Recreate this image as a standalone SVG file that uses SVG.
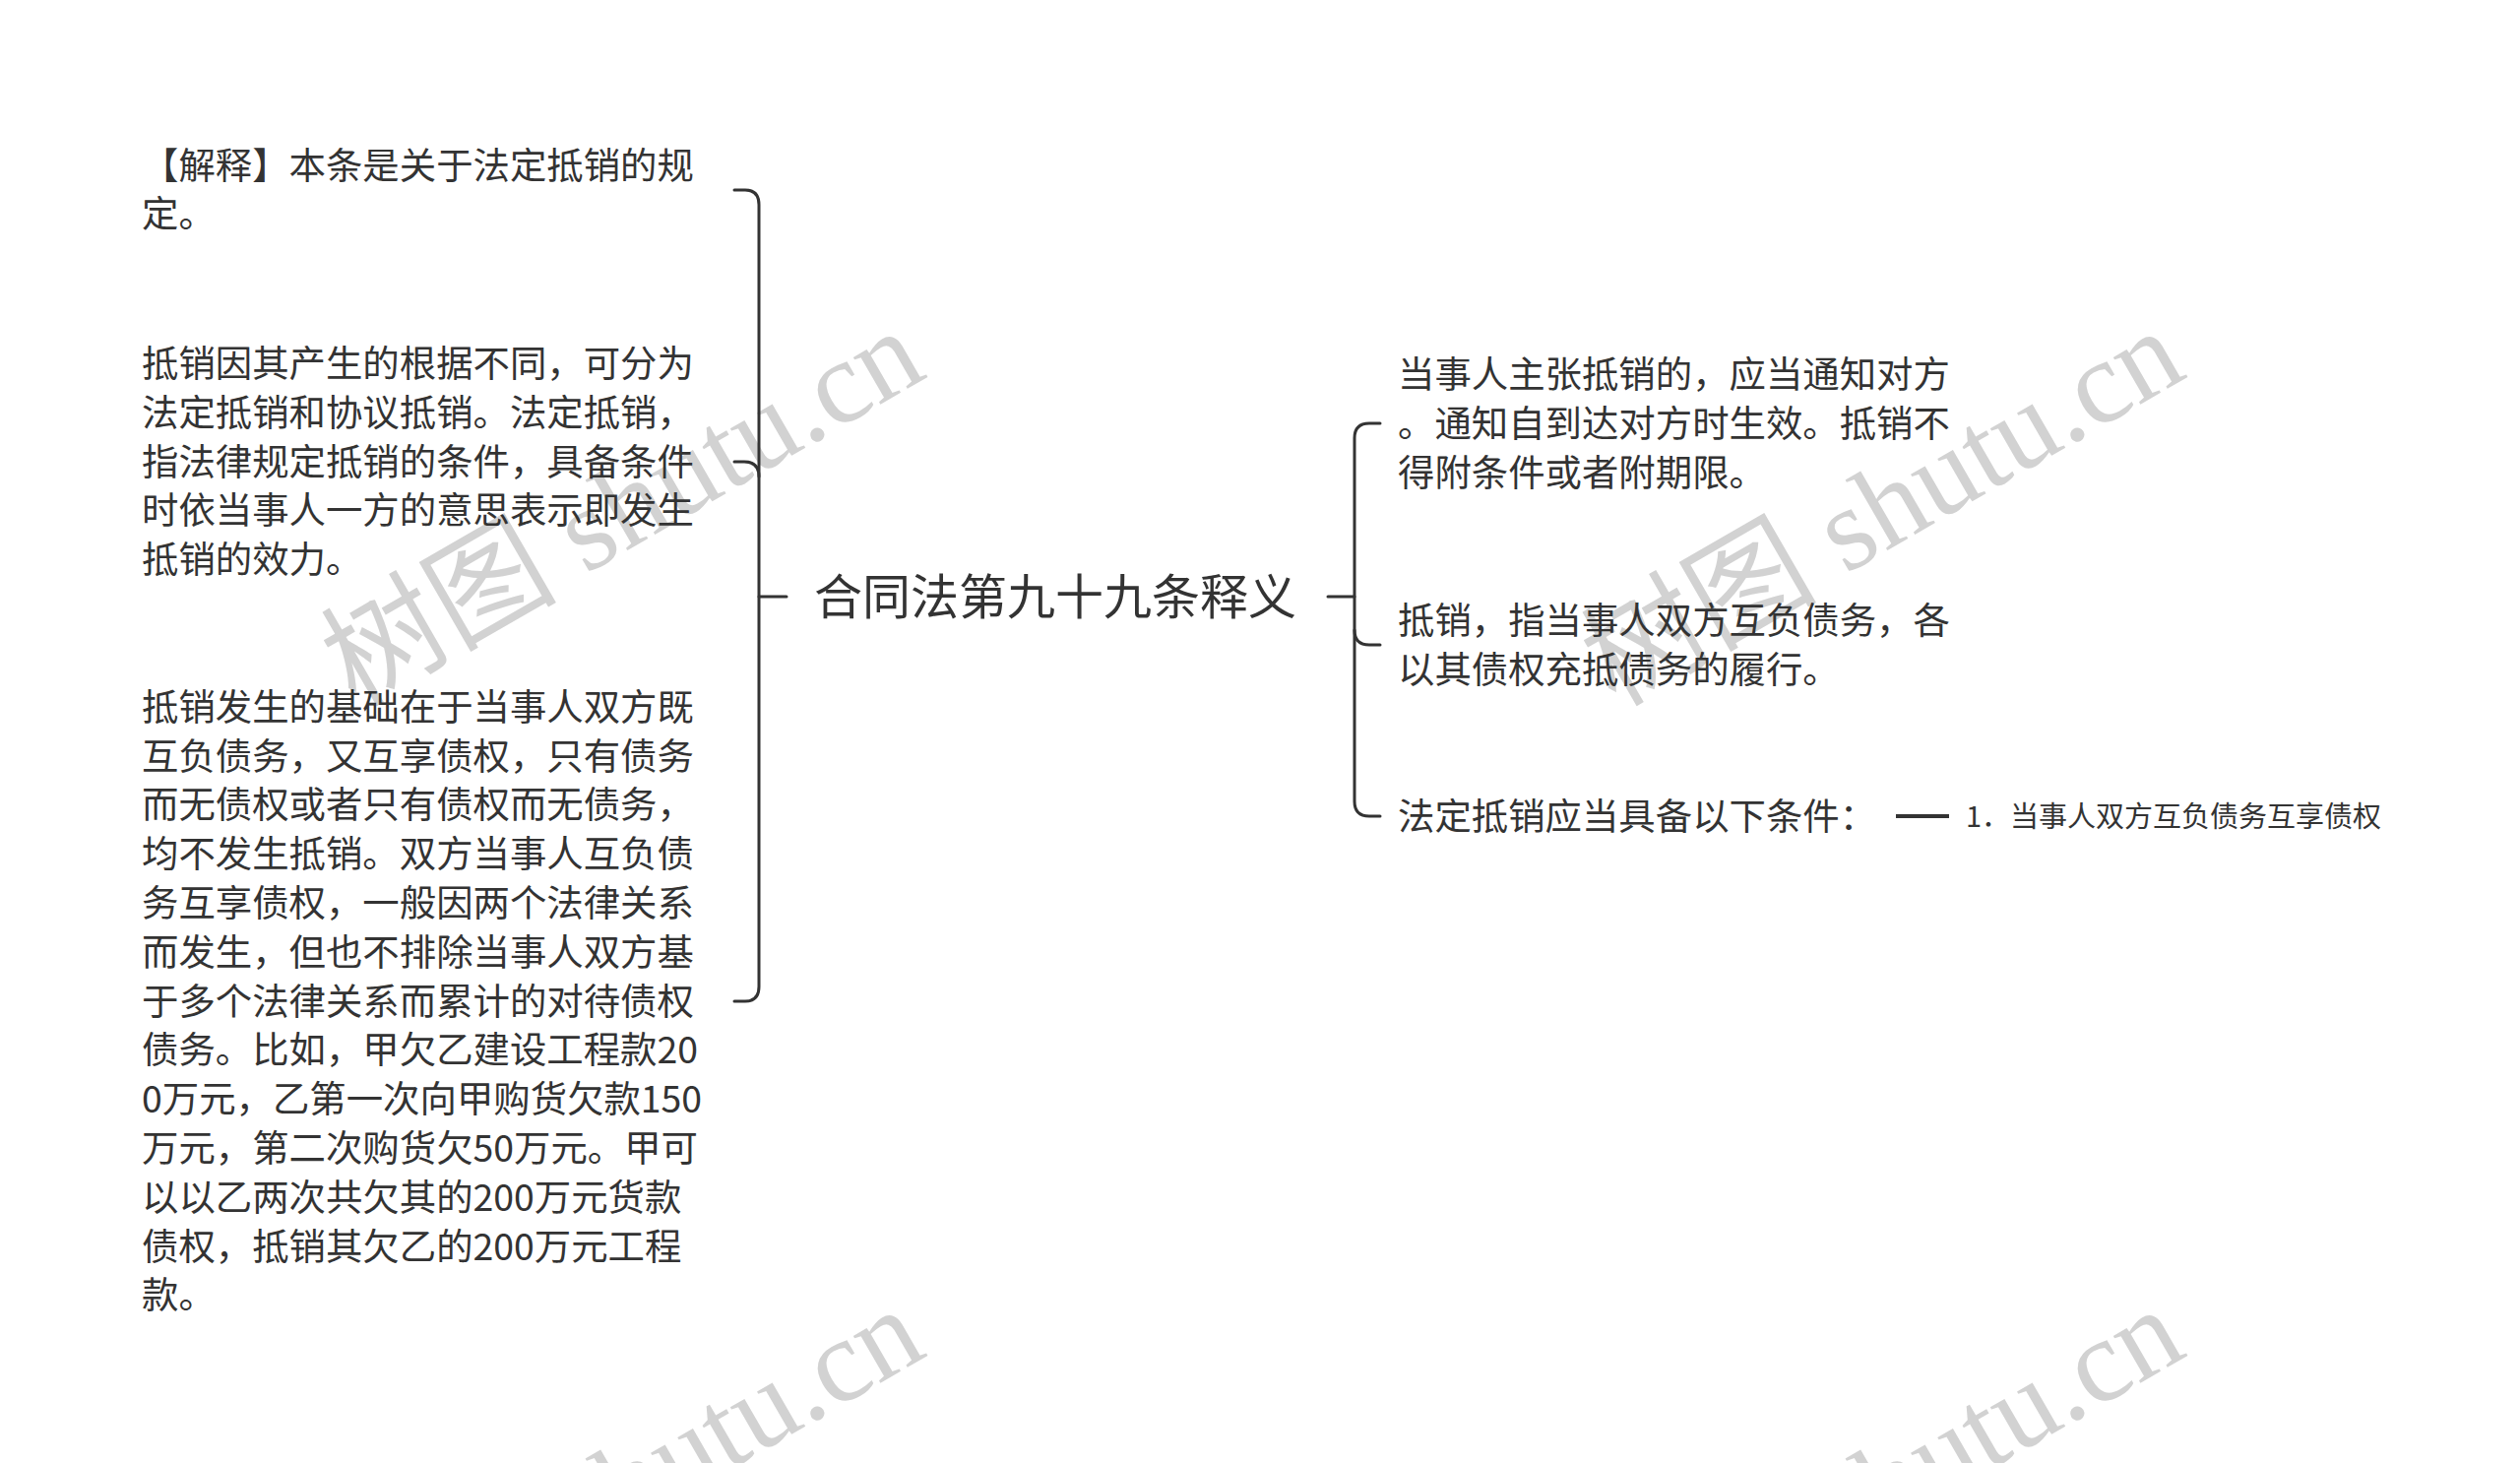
<svg xmlns="http://www.w3.org/2000/svg" width="2560" height="1486" viewBox="0 0 2560 1486">
<style>
.t{font-family:"Noto Sans CJK SC","Noto Sans",sans-serif;fill:#333333;font-size:37.4px}
.c{font-size:49px}
.leaf{font-size:29px}
.ln{fill:none;stroke:#333333;stroke-width:3;stroke-linecap:round}
.wm{font-family:"Liberation Serif","Noto Sans CJK SC",serif;fill:#d2d2d2;font-size:120px}
</style>
<rect width="2560" height="1486" fill="#ffffff"/>
<g id="watermarks">
<text class="wm" text-anchor="end" transform="translate(944,382) rotate(-30)">树图 shutu.cn</text>
<text class="wm" text-anchor="end" transform="translate(2224,382) rotate(-30)">树图 shutu.cn</text>
<text class="wm" text-anchor="end" transform="translate(944,1376) rotate(-30)">树图 shutu.cn</text>
<text class="wm" text-anchor="end" transform="translate(2224,1376) rotate(-30)">树图 shutu.cn</text>
</g>
<g id="connectors">
<path class="ln" d="M746,193 H757 Q771,193 771,208 V1002 Q771,1017 757,1017 H746"/>
<path class="ln" d="M746,469 H756 Q771,469 771,484"/>
<path class="ln" d="M771,606 H799"/>
<path class="ln" d="M1349,606 H1376"/>
<path class="ln" d="M1402,430 H1391 Q1376,430 1376,445 V814 Q1376,829 1391,829 H1402"/>
<path class="ln" d="M1376,640 Q1376,655 1391,655 H1402"/>
<path d="M1926,829 H1980" stroke="#333333" stroke-width="4" fill="none"/>
</g>
<g id="root">
<text class="t c" x="827" y="624">合同法第九十九条释义</text>
</g>
<g id="left1">
<text class="t" x="144"><tspan x="144" y="182">【解释】本条是关于法定抵销的规</tspan><tspan x="144" y="231">定。</tspan></text>
</g>
<g id="left2">
<text class="t" x="144"><tspan x="144" y="383">抵销因其产生的根据不同，可分为</tspan><tspan x="144" y="433">法定抵销和协议抵销。法定抵销，</tspan><tspan x="144" y="483">指法律规定抵销的条件，具备条件</tspan><tspan x="144" y="532">时依当事人一方的意思表示即发生</tspan><tspan x="144" y="582">抵销的效力。</tspan></text>
</g>
<g id="left3">
<text class="t" x="144"><tspan x="144" y="732">抵销发生的基础在于当事人双方既</tspan><tspan x="144" y="782">互负债务，又互享债权，只有债务</tspan><tspan x="144" y="831">而无债权或者只有债权而无债务，</tspan><tspan x="144" y="881">均不发生抵销。双方当事人互负债</tspan><tspan x="144" y="931">务互享债权，一般因两个法律关系</tspan><tspan x="144" y="981">而发生，但也不排除当事人双方基</tspan><tspan x="144" y="1031">于多个法律关系而累计的对待债权</tspan><tspan x="144" y="1080">债务。比如，甲欠乙建设工程款20</tspan><tspan x="144" y="1130">0万元，乙第一次向甲购货欠款150</tspan><tspan x="144" y="1180">万元，第二次购货欠50万元。甲可</tspan><tspan x="144" y="1230">以以乙两次共欠其的200万元货款</tspan><tspan x="144" y="1280">债权，抵销其欠乙的200万元工程</tspan><tspan x="144" y="1329">款。</tspan></text>
</g>
<g id="right1">
<text class="t" x="1420"><tspan x="1420" y="394">当事人主张抵销的，应当通知对方</tspan><tspan x="1420" y="444">。通知自到达对方时生效。抵销不</tspan><tspan x="1420" y="494">得附条件或者附期限。</tspan></text>
</g>
<g id="right2">
<text class="t" x="1420"><tspan x="1420" y="644">抵销，指当事人双方互负债务，各</tspan><tspan x="1420" y="694">以其债权充抵债务的履行。</tspan></text>
</g>
<g id="right3">
<text class="t" x="1420" y="843">法定抵销应当具备以下条件：</text>
</g>
<g id="leaf1">
<text class="t leaf" x="1997" y="840">1．当事人双方互负债务互享债权</text>
</g>
</svg>
